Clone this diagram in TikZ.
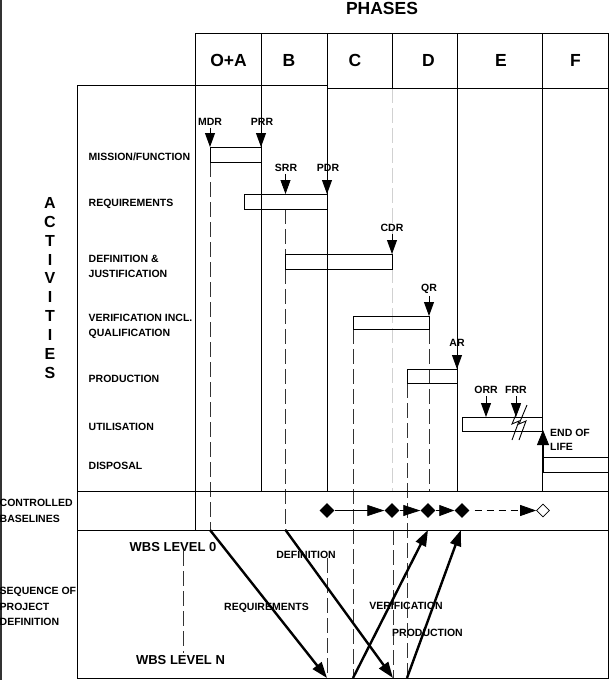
\documentclass[tikz,border=0pt]{standalone}
\usepackage{fontspec}
\setmainfont{Liberation Sans}
\usetikzlibrary{arrows.meta,shapes.geometric}
\begin{document}
\begin{tikzpicture}[x=1pt,y=-1pt,
  lbl/.style={font=\bfseries\fontsize{10.5}{15.5}\selectfont, inner sep=0pt, align=left, anchor=west},
  ms/.style={font=\bfseries\fontsize{10.5}{12}\selectfont, inner sep=0pt},
  phase/.style={font=\bfseries\fontsize{17.5}{20}\selectfont, inner sep=0pt},
  wbs/.style={font=\bfseries\fontsize{13}{15}\selectfont, inner sep=0pt},
  grid/.style={line width=0.8pt, black},
  bar/.style={draw, line width=0.8pt},
  dsh/.style={line width=0.8pt, draw=black!80, dash pattern=on 15pt off 5pt},
  ldsh/.style={line width=0.8pt, draw=black!18, dash pattern=on 15pt off 5pt},
  msarrow/.style={line width=0.8pt, shorten <=2pt, -{Triangle[length=14pt,width=10pt]}},
  blarrow/.style={line width=0.8pt, -{Triangle[length=17pt,width=11pt]}},
  seqarrow/.style={line width=2.4pt, -{Triangle[length=16pt,width=11pt]}},
  dia/.style={diamond, fill=black, minimum width=15pt, minimum height=15pt, inner sep=0pt},
  odia/.style={diamond, draw, fill=white, line width=0.7pt, minimum width=13pt, minimum height=13pt, inner sep=0pt},
]
\useasboundingbox (0,0) rectangle (612,680);
% left frame edge
\draw[line width=1.5pt, black!80] (0.75,0) -- (0.75,680);

% ---------- dashed guide lines ----------
\draw[dsh] (210,162) -- (210,530);
\draw[dsh] (285.5,209) -- (285.5,530);
\draw[ldsh] (392,88) -- (392,491);
\draw[dsh] (353,329) -- (353,678);
\draw[dsh] (407,383) -- (407,678);
\draw[dsh] (429,329) -- (429,491);
\draw[dsh] (327,558) -- (327,678);
\draw[dsh] (393,530) -- (393,678);
\draw[dsh] (183,551) -- (183,653);

% ---------- grid ----------
\draw[grid] (195,33) -- (608,33);
\draw[grid] (327,88) -- (608,88);
\draw[grid] (77,85.5) -- (327,85.5);
\draw[grid] (77,85.5) -- (77,678) -- (608,678) -- (608,33);
\draw[grid] (77,491) -- (608,491);
\draw[grid] (77,530) -- (608,530);
\draw[grid] (195,33) -- (195,530);
\draw[grid] (261,33) -- (261,491);
\draw[grid] (327,33) -- (327,491);
\draw[grid] (392,33) -- (392,88);
\draw[grid] (457,33) -- (457,491);
\draw[grid] (542,33) -- (542,491);

% ---------- titles ----------
\node[phase] (phases) at (382,8) {PHASES};
\node[phase] (pOA) at (228.5,60) {O+A};
\node[phase] (pB) at (289,60) {B};
\node[phase] (pC) at (355,60) {C};
\node[phase] (pD) at (428.5,60) {D};
\node[phase] (pE) at (501,60) {E};
\node[phase] (pF) at (575.5,60) {F};

\node[font=\bfseries\fontsize{16}{18.9}\selectfont, align=center, inner sep=0pt] (act) at (50,288) {A\\C\\T\\I\\V\\I\\T\\I\\E\\S};

% ---------- row labels ----------
\node[lbl] (rMis) at (88.5,157) {MISSION/FUNCTION};
\node[lbl] (rReq) at (88.5,204) {REQUIREMENTS};
\node[lbl] (rDef) at (88.5,266.5) {DEFINITION \&\\JUSTIFICATION};
\node[lbl] (rVer) at (88.5,326.5) {VERIFICATION INCL.\\QUALIFICATION};
\node[lbl] (rPro) at (88.5,379) {PRODUCTION};
\node[lbl] (rUti) at (88.5,427) {UTILISATION};
\node[lbl] (rDis) at (88.5,466) {DISPOSAL};
\node[lbl] (rCB) at (-0.5,511) {CONTROLLED\\BASELINES};
\node[lbl] (rSeq) at (-0.5,606.5) {SEQUENCE OF\\PROJECT\\DEFINITION};

% ---------- bars ----------
\draw[bar] (210,147) rectangle (261,162);
\draw[bar] (244,194) rectangle (327,209);
\draw[bar] (285.5,254) rectangle (392,269);
\draw[bar] (353,316) rectangle (429,329);
\draw[bar] (407,369) rectangle (457,383);
\draw[bar] (462,417) rectangle (542,431);
\draw[bar] (543,457) rectangle (608,472);

% ---------- milestones ----------
\node[ms] (mdr) at (210,122) {MDR};
\node[ms] (prr) at (262,122) {PRR};
\node[ms] (srr) at (286,168) {SRR};
\node[ms] (pdr) at (328,168) {PDR};
\node[ms] (cdr) at (392,228) {CDR};
\node[ms] (qr) at (429,289) {QR};
\node[ms] (ar) at (457,343) {AR};
\node[ms] (orr) at (486,390) {ORR};
\node[ms] (frr) at (516,390) {FRR};
\coordinate (mdrT) at (210,147);
\coordinate (prrT) at (261,147);
\coordinate (srrT) at (285.5,194);
\coordinate (pdrT) at (327,194);
\coordinate (cdrT) at (392,254);
\coordinate (qrT) at (429,316);
\coordinate (arT) at (457,369);
\coordinate (orrT) at (486,417);
\coordinate (frrT) at (516,417);
\draw[msarrow] (mdr.south -| mdrT) -- (mdrT);
\draw[msarrow] (prr.south -| prrT) -- (prrT);
\draw[msarrow] (srr.south -| srrT) -- (srrT);
\draw[msarrow] (pdr.south -| pdrT) -- (pdrT);
\draw[msarrow] (cdr.south -| cdrT) -- (cdrT);
\draw[msarrow] (qr.south -| qrT) -- (qrT);
\draw[msarrow] (ar.south -| arT) -- (arT);
\draw[msarrow] (orr.south -| orrT) -- (orrT);
\draw[msarrow] (frr.south -| frrT) -- (frrT);

% break symbol
\draw[line width=0.9pt] (520,405) -- (512,424) -- (519,421) -- (512,440);
\draw[line width=0.9pt] (527,405) -- (519,424) -- (526,421) -- (519,440);

% end of life
\coordinate (eolB) at (543,457);
\coordinate (eolT) at (543,430);
\draw[line width=0.8pt, -{Triangle[length=15pt,width=12pt]}] (eolB) -- (eolT);
\node[lbl, font=\bfseries\fontsize{10.5}{14}\selectfont] (eol) at (550,439.7) {END OF\\LIFE};

% ---------- controlled baselines ----------
\node[dia] (d1) at (327,510.5) {};
\node[dia] (d2) at (392,510.5) {};
\node[dia] (d3) at (428,510.5) {};
\node[dia] (d4) at (462,510.5) {};
\node[odia] (d5) at (543,510.5) {};
\draw[blarrow] (d1) -- (d2);
\draw[line width=0.8pt, -{Triangle[length=17pt,width=11pt]}] (d2) -- (d3);
\draw[line width=0.8pt, -{Triangle[length=15pt,width=11pt]}] (d3) -- (d4);
\draw[line width=0.8pt, dash pattern=on 7pt off 5pt, shorten <=5pt, -{Triangle[length=16pt,width=11pt]}] (d4) -- (d5);

% ---------- sequence of project definition ----------
\coordinate (a1s) at (210,530);
\coordinate (a1e) at (327,678);
\coordinate (a2s) at (285.5,530);
\coordinate (a2e) at (393,678);
\coordinate (a3s) at (353,678);
\coordinate (a3e) at (428,530);
\coordinate (a4s) at (407,678);
\coordinate (a4e) at (461,530);
\draw[seqarrow] (a1s) -- (a1e);
\draw[seqarrow] (a2s) -- (a2e);
\draw[seqarrow] (a3s) -- (a3e);
\draw[seqarrow] (a4s) -- (a4e);

\node[wbs] (w0) at (173,547) {WBS LEVEL 0};
\node[wbs] (wn) at (180.5,660) {WBS LEVEL N};
\node[ms] (sDef) at (306,555) {DEFINITION};
\node[ms] (sReq) at (266.5,608) {REQUIREMENTS};
\node[ms] (sVer) at (406,606) {VERIFICATION};
\node[ms] (sPro) at (427.5,633) {PRODUCTION};
\end{tikzpicture}
\end{document}
